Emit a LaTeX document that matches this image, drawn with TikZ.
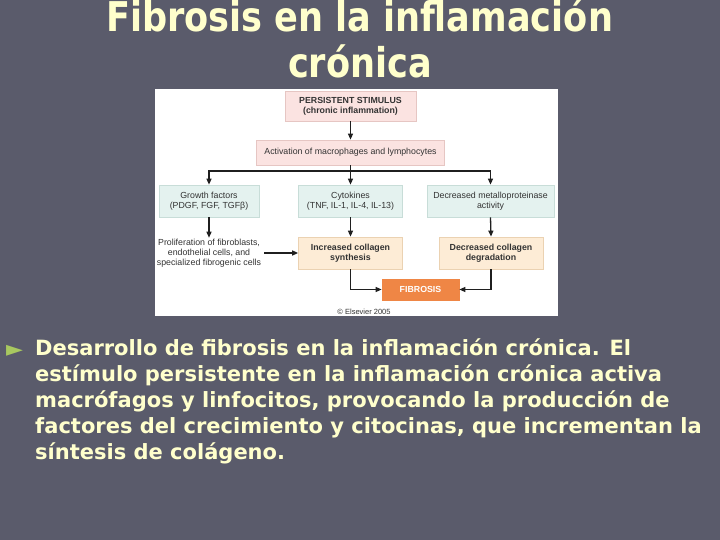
\documentclass[tikz,border=0pt]{standalone}
\usepackage{fontspec}
\usetikzlibrary{arrows.meta}
\newfontfamily\tah{DejaVu Sans}[FakeStretch=0.857]
\newfontfamily\bod{DejaVu Sans}[FakeStretch=1.0]
\newfontfamily\ar{Liberation Sans}
\newfontfamily\sym{DejaVu Sans}
\definecolor{bg}{HTML}{5A5B6B}
\definecolor{ttl}{HTML}{FFFFCC}
\definecolor{bul}{HTML}{A8C860}
\definecolor{pinkF}{HTML}{FBE3E1}
\definecolor{pinkD}{HTML}{E6C6C3}
\definecolor{greenF}{HTML}{E4F2EF}
\definecolor{greenD}{HTML}{C8DDD8}
\definecolor{peachF}{HTML}{FDECD6}
\definecolor{peachD}{HTML}{EBD2B2}
\definecolor{orangeF}{HTML}{EF8645}
\definecolor{dtxt}{HTML}{333333}
\tikzset{
  boxbase/.style={align=center, inner sep=0pt, line width=0.7pt, text=dtxt,
    font=\ar\fontsize{8.8}{9.8}\selectfont},
  pinkbox/.style={boxbase, fill=pinkF, draw=pinkD},
  greenbox/.style={boxbase, fill=greenF, draw=greenD},
  peachbox/.style={boxbase, fill=peachF, draw=peachD, font=\ar\bfseries\fontsize{8.8}{9.8}\selectfont},
  orangebox/.style={boxbase, fill=orangeF, draw=orangeF, text=white, font=\ar\bfseries\fontsize{8.8}{9.8}\selectfont},
  arr/.style={line width=1.3pt, draw=black!88, -{Triangle[length=6pt,width=5pt]}},
  ln/.style={line width=1.3pt, draw=black!88},
  titlefont/.style={font=\tah\bfseries\fontsize{41}{46}\selectfont, text=ttl, inner sep=0pt},
  bodyfont/.style={font=\bod\bfseries\fontsize{21}{26}\selectfont, text=ttl, inner sep=0pt, anchor=base west}
}
\begin{document}
\begin{tikzpicture}[x=1pt,y=-1pt]
\fill[bg] (0,0) rectangle (720,540);
\useasboundingbox (0,0) rectangle (720,540);
% title
\node[titlefont, anchor=base] (t1) at (359.5,32) {Fibrosis en la inflamación};
\node[titlefont, anchor=base] (t2) at (360,78) {crónica};
% panel
\node[fill=white, minimum width=403pt, minimum height=227pt, inner sep=0pt] (panel) at (356.5,202.5) {};
% boxes
\node[pinkbox, minimum width=131pt, minimum height=30pt, font=\ar\bfseries\fontsize{8.8}{9.8}\selectfont] (stim) at (350.5,106) {PERSISTENT STIMULUS\\(chronic inflammation)};
\node[pinkbox, minimum width=188pt, minimum height=25pt] (act) at (350.5,152.5) {Activation of macrophages and lymphocytes};
\node[greenbox, minimum width=100pt, minimum height=32pt] (gf) at (209,201) {Growth factors\\(PDGF, FGF, TGFβ)};
\node[greenbox, minimum width=104pt, minimum height=32pt] (cyt) at (350.5,201) {Cytokines\\(TNF, IL-1, IL-4, IL-13)};
\node[greenbox, minimum width=127pt, minimum height=32pt] (mmp) at (490.5,201) {Decreased metalloproteinase\\activity};
\node[boxbase, inner sep=1pt] (pro) at (209,253) {Proliferation of fibroblasts,\\endothelial cells, and\\specialized fibrogenic cells};
\node[peachbox, minimum width=104pt, minimum height=32pt] (inc) at (350.5,253) {Increased collagen\\synthesis};
\node[peachbox, minimum width=104pt, minimum height=32pt] (dec) at (491,253) {Decreased collagen\\degradation};
\node[orangebox, minimum width=77pt, minimum height=21pt] (fib) at (420.5,289.5) {FIBROSIS};
\node[boxbase, font=\ar\fontsize{7.5}{9}\selectfont] (els) at (364,312) {© Elsevier 2005};
% connectors
\coordinate (bj) at (350.5,171);
\draw[arr] (stim.south) -- (act.north);
\draw[ln] (act.south) -- (bj);
\draw[arr] (bj) -| (gf.north);
\draw[arr] (bj) -| (mmp.north);
\draw[arr] (bj) -- (cyt.north);
\draw[arr] (gf.south) -- (pro.north);
\draw[arr] (cyt.south) -- (inc.north);
\draw[arr] (mmp.south) -- (dec.north);
\draw[arr] ([xshift=2pt]pro.east) -- (inc.west);
\draw[arr] (inc.south) |- (fib.west);
\draw[arr] (dec.south) |- (fib.east);
% body text
\node[font=\sym\fontsize{22}{24}\selectfont, text=bul, inner sep=0pt, anchor=base west] (bl) at (6,356) {►};
\node[bodyfont] (b1) at (35,355) {Desarrollo de fibrosis en la inflamación crónica. El};
\node[bodyfont] (b2) at (35,381) {estímulo persistente en la inflamación crónica activa};
\node[bodyfont] (b3) at (35,407) {macrófagos y linfocitos, provocando la producción de};
\node[bodyfont] (b4) at (35,433) {factores del crecimiento y citocinas, que incrementan la};
\node[bodyfont] (b5) at (35,459) {síntesis de colágeno.};
\end{tikzpicture}
\end{document}
